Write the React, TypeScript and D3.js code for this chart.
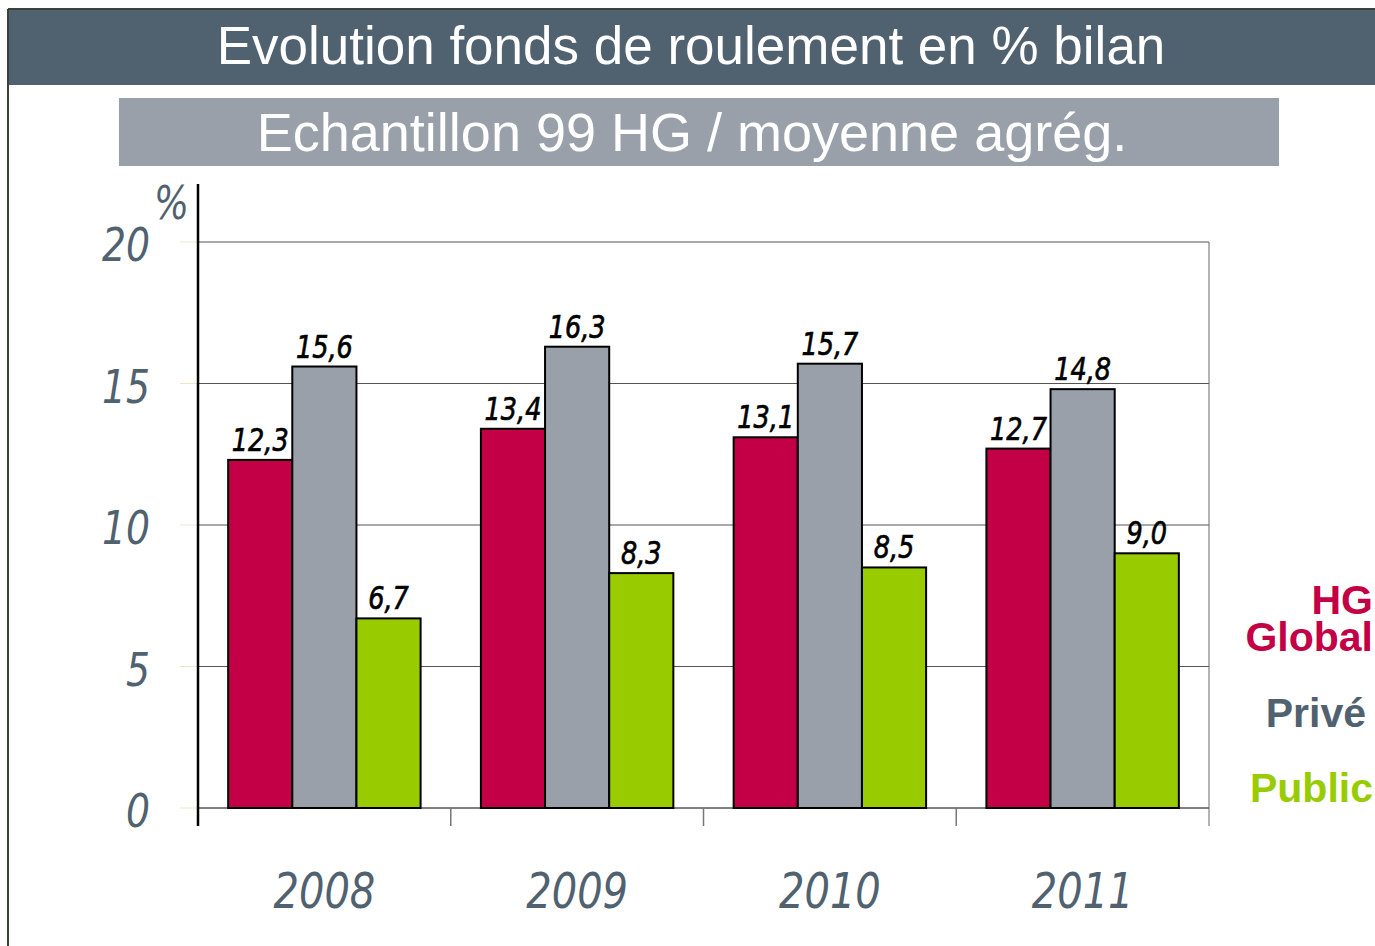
import React from "react";
import * as d3 from "d3";

const categories = ["2008", "2009", "2010", "2011"];
const seriesNames = ["HG Global", "Privé", "Public"];
const hgGlobal = [12.3, 13.4, 13.1, 12.7];
const prive = [15.6, 16.3, 15.7, 14.8];
const publicV = [6.7, 8.3, 8.5, 9.0];
const yTicks = [0, 5, 10, 15, 20];
const colors = ["#c30045", "#99a0aa", "#99cc00"];
const legendColors = ["#c30045", "#506170", "#99cc00"];

const W = 1375, H = 946;
const x0 = 198, x1 = 1209, yTop = 242, yBot = 808;

const cond = "'DejaVu Sans', 'Liberation Sans', sans-serif";

function CText(props: { x: number; y: number; sx?: number; size: number; fill: string; anchor?: string; bold?: boolean; children: React.ReactNode }) {
  const { x, y, sx = 0.8, size, fill, anchor = "middle", bold = false, children } = props;
  return (
    <text transform={`translate(${x},${y}) scale(${sx},1)`} textAnchor={anchor as any} fill={fill}
      fontFamily={cond} fontStyle="italic" fontSize={size}
      stroke={bold ? fill : "none"} strokeWidth={bold ? 0.7 : 0}>
      {children}
    </text>
  );
}

export default function App() {
  const x = d3.scaleBand().domain(categories).range([x0, x1]).paddingInner(0).paddingOuter(0);
  const xs = d3.scaleBand().domain(seriesNames).range([0, x.bandwidth()]).paddingInner(0).paddingOuter(0.47);
  const y = d3.scaleLinear().domain([0, 20]).range([yBot, yTop]);
  const series = [hgGlobal, prive, publicV];
  const fmt = (v: number) => v.toFixed(1).replace(".", ",");
  return (
    <svg width={W} height={H} style={{ position: "absolute", left: 0, top: 0, display: "block" }}>
      <rect x={0} y={0} width={W} height={H} fill="#fff" />
      {/* frame */}
      <line x1={8} y1={9} x2={8} y2={H} stroke="#3a4238" strokeWidth={2} />
      <line x1={8} y1={9} x2={W} y2={9} stroke="#3a4238" strokeWidth={2} />
      <rect x={9} y={10} width={W - 9} height={75} fill="#506170" />
      <text x={691} y={64} textAnchor="middle" fill="#fff" fontFamily="'Liberation Sans', Arial, sans-serif" fontSize={53}>
        Evolution fonds de roulement en % bilan
      </text>
      <rect x={119} y={98} width={1160} height={68} fill="#99a0aa" />
      <text x={692} y={151} textAnchor="middle" fill="#fff" fontFamily="'Liberation Sans', Arial, sans-serif" fontSize={54}>
        Echantillon 99 HG / moyenne agrég.
      </text>
      {/* gridlines */}
      {yTicks.map((t) => (
        <g key={t}>
          <line x1={180} x2={x0} y1={y(t)} y2={y(t)} stroke="#efe6c8" strokeWidth={1} />
          <line x1={x0} x2={x1} y1={y(t)} y2={y(t)} stroke={t === 0 ? "#000" : "#555"} strokeWidth={t === 20 ? 1.2 : 1} />
          <CText x={150} y={y(t) + 19} size={46} fill="#506170" anchor="end" sx={0.82}>{t}</CText>
        </g>
      ))}
      <CText x={154} y={219} size={46} fill="#506170" anchor="start" sx={0.8}>%</CText>
      {/* right border */}
      <line x1={x1} x2={x1} y1={yTop} y2={826} stroke="#666" strokeWidth={1} />
      {/* category separators */}
      {categories.slice(1).map((c) => (
        <line key={c} x1={x(c)!} x2={x(c)!} y1={yBot} y2={826} stroke="#777" strokeWidth={1.5} />
      ))}
      {/* bars */}
      {categories.map((c, i) => (
        <g key={c} transform={`translate(${x(c)},0)`}>
          {series.map((s, j) => (
            <g key={j}>
              <rect x={xs(seriesNames[j])!} y={y(s[i])} width={xs.bandwidth()} height={yBot - y(s[i])}
                fill={colors[j]} stroke="#000" strokeWidth={2} />
              <CText x={xs(seriesNames[j])! + xs.bandwidth() / 2} y={y(s[i]) - 9} size={32} fill="#000" sx={0.8} bold>
                {fmt(s[i])}
              </CText>
            </g>
          ))}
          <CText x={x.bandwidth() / 2} y={908} size={50} fill="#506170" sx={0.8}>{c}</CText>
        </g>
      ))}
      {/* y axis */}
      <line x1={x0} x2={x0} y1={184} y2={826} stroke="#000" strokeWidth={2.5} />
      {/* legend */}
      <g fontFamily="'Liberation Sans', Arial, sans-serif" fontWeight="bold" fontSize={41} textAnchor="end">
        <text fill={legendColors[0]}>
          <tspan x={1373} y={614}>HG</tspan>
          <tspan x={1373} y={651}>Global</tspan>
        </text>
        <text x={1366} y={727} fill={legendColors[1]}>{seriesNames[1]}</text>
        <text x={1373} y={802} fill={legendColors[2]}>{seriesNames[2]}</text>
      </g>
    </svg>
  );
}
